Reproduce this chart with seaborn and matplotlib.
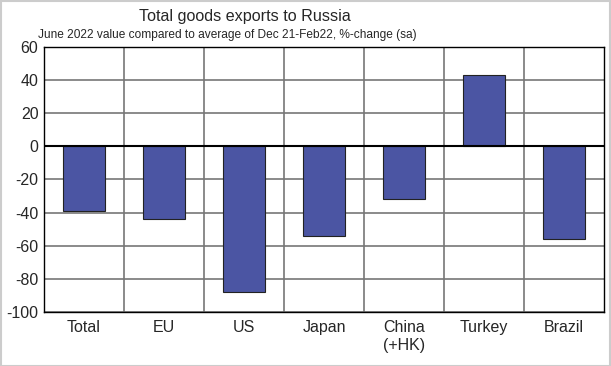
import matplotlib
matplotlib.use("Agg")
import matplotlib.pyplot as plt
import seaborn as sns
import pandas as pd
from matplotlib.patches import Rectangle

categories = ["Total", "EU", "US", "Japan", "China\n(+HK)", "Turkey", "Brazil"]
values = [-39, -44, -88, -54, -32, 43, -56]
yticks = [-100, -80, -60, -40, -20, 0, 20, 40, 60]

sns.set_theme(style="white")
plt.rcParams['font.family'] = ['Liberation Sans', 'DejaVu Sans']

df = pd.DataFrame({"cat": categories, "val": values})

fig = plt.figure(figsize=(6.11, 3.66), dpi=100)
ax = fig.add_axes([44/611, 1 - 312/366, 560/611, 265/366])

sns.barplot(data=df, x="cat", y="val", ax=ax, color="#4B55A3", width=0.53,
            edgecolor="#222222", linewidth=0.8, saturation=1, zorder=3)

ax.set_ylim(-100, 60)
ax.set_xlim(-0.5, len(categories) - 0.5)
ax.set_yticks(yticks)
ax.set_yticklabels([str(t) for t in yticks], fontsize=11.5)
ax.tick_params(axis='x', labelsize=11.5, length=0, pad=6)
ax.tick_params(axis='y', length=0, pad=4)
for lab in ax.get_xticklabels():
    lab.set_verticalalignment('top')
ax.set_xlabel("")
ax.set_ylabel("")

for t in yticks:
    if t != 0:
        ax.axhline(t, color="#777777", linewidth=1.2, zorder=1)
ax.axhline(0, color="black", linewidth=1.5, zorder=4)
for i in range(1, len(categories)):
    ax.axvline(i - 0.5, color="#777777", linewidth=1.2, zorder=1)

for s in ax.spines.values():
    s.set_visible(True)
    s.set_color("black")
    s.set_linewidth(1.0)

fig.text(245/611, 1 - 16/366, "Total goods exports to Russia", ha="center", va="center",
         fontsize=11.6)
fig.text(38/611, 1 - 35/366, "June 2022 value compared to average of Dec 21-Feb22, %-change (sa)",
         ha="left", va="center", fontsize=8.6)

fig.patches.append(Rectangle((0.001, 0.001), 0.997, 0.996, transform=fig.transFigure,
                             fill=False, edgecolor="#CCCCCC", linewidth=1.5))

fig.savefig("out.png", dpi=100)
